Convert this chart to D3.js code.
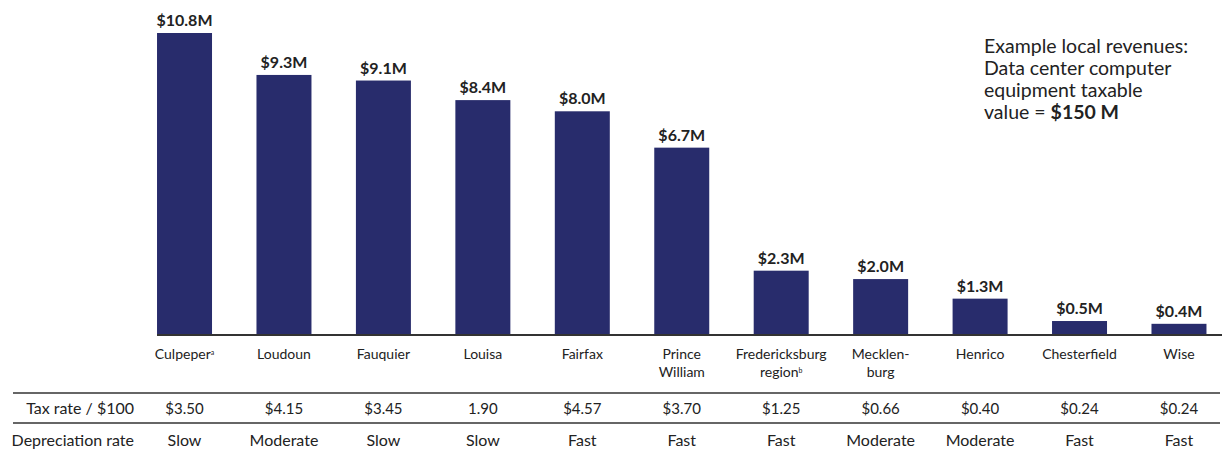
<!DOCTYPE html>
<html>
<head>
<meta charset="utf-8">
<script src="https://cdn.jsdelivr.net/npm/d3@7"></script>
<style>
  body { margin: 0; background: #fff; }
  svg text { font-family: Lato, 'Open Sans', sans-serif; fill: #222; }
</style>
</head>
<body>
<div id="container"></div>
<script>
const w = 1223,
  h = 451,
  baseY = 335,
  topY = 33;

const counties = [
  'Culpeper', 'Loudoun', 'Fauquier', 'Louisa', 'Fairfax', 'Prince William',
  'Fredericksburg region', 'Mecklenburg', 'Henrico', 'Chesterfield', 'Wise',
];
const labelLines = [
  ['Culpeper'], ['Loudoun'], ['Fauquier'], ['Louisa'], ['Fairfax'],
  ['Prince', 'William'], ['Fredericksburg', 'region'], ['Mecklen-', 'burg'],
  ['Henrico'], ['Chesterfield'], ['Wise'],
];
const notes = ['a', '', '', '', '', '', 'b', '', '', '', ''];
const revenues = [10.8, 9.3, 9.1, 8.4, 8.0, 6.7, 2.3, 2.0, 1.3, 0.5, 0.4];
const taxRates = ['$3.50', '$4.15', '$3.45', '1.90', '$4.57', '$3.70', '$1.25', '$0.66', '$0.40', '$0.24', '$0.24'];
const depreciation = ['Slow', 'Moderate', 'Slow', 'Slow', 'Fast', 'Fast', 'Fast', 'Moderate', 'Moderate', 'Fast', 'Fast'];
const rowLabels = ['Tax rate / $100', 'Depreciation rate'];
const noteLines = ['Example local revenues:', 'Data center computer', 'equipment taxable'];

const svg = d3
  .select('#container')
  .append('svg')
  .attr('width', w)
  .attr('height', h);

const xScale = d3
  .scaleBand()
  .domain(counties)
  .range([134.8, 1228.7])
  .paddingInner(0.447)
  .paddingOuter(0.2235);

const yScale = d3
  .scaleLinear()
  .domain([0, d3.max(revenues)])
  .range([baseY, topY]);

const data = counties.map((c, i) => ({ name: c, value: revenues[i], i: i }));

svg
  .selectAll('rect.bar')
  .data(data)
  .enter()
  .append('rect')
  .attr('class', 'bar')
  .attr('x', (d) => xScale(d.name))
  .attr('y', (d) => yScale(d.value))
  .attr('width', xScale.bandwidth())
  .attr('height', (d) => baseY - yScale(d.value))
  .attr('fill', '#282c6c');

svg
  .selectAll('text.value')
  .data(data)
  .enter()
  .append('text')
  .attr('class', 'value')
  .attr('x', (d) => xScale(d.name) + xScale.bandwidth() / 2)
  .attr('y', (d) => yScale(d.value) - 7)
  .attr('text-anchor', 'middle')
  .style('font-size', '16px')
  .style('font-weight', 'bold')
  .text((d) => '$' + d3.format('.1f')(d.value) + 'M');

// baseline
svg
  .append('line')
  .attr('x1', xScale(counties[0]))
  .attr('x2', 1222)
  .attr('y1', baseY)
  .attr('y2', baseY)
  .attr('stroke', '#333')
  .attr('stroke-width', 2);

// category labels
const xAxis = d3.axisBottom(xScale).tickSize(0).tickPadding(0);
const axisG = svg
  .append('g')
  .attr('transform', 'translate(0,' + 359 + ')')
  .call(xAxis);
axisG.select('.domain').remove();
axisG.selectAll('.tick text').each(function (d, i) {
  const t = d3.select(this);
  t.text(null)
    .attr('dy', null)
    .attr('y', 0)
    .style('font-size', '14px')
    .style('font-family', 'Lato, sans-serif')
    .attr('fill', '#222');
  labelLines[i].forEach((line, j) => {
    t.append('tspan').attr('x', 0).attr('y', j * 18).text(line);
    if (j === labelLines[i].length - 1 && notes[i]) {
      t.append('tspan')
        .attr('baseline-shift', 'super')
        .style('font-size', '7px')
        .text(notes[i]);
    }
  });
});

// table lines
[393, 423].forEach((y) => {
  svg
    .append('line')
    .attr('x1', 13)
    .attr('x2', 1220)
    .attr('y1', y)
    .attr('y2', y)
    .attr('stroke', '#333')
    .attr('stroke-width', 1.5);
});

const rows = [taxRates, depreciation];
const rowY = [414, 446];
const rowSize = ['15px', '16px'];

rows.forEach((vals, r) => {
  svg
    .append('text')
    .attr('x', 134)
    .attr('y', rowY[r])
    .attr('text-anchor', 'end')
    .style('font-size', '16px')
    .text(rowLabels[r]);
  svg
    .selectAll('text.row' + r)
    .data(vals)
    .enter()
    .append('text')
    .attr('class', 'row' + r)
    .attr('x', (d, i) => xScale(counties[i]) + xScale.bandwidth() / 2)
    .attr('y', rowY[r])
    .attr('text-anchor', 'middle')
    .style('font-size', rowSize[r])
    .text((d) => d);
});

// note
const note = svg
  .append('text')
  .attr('x', 984)
  .attr('y', 53)
  .style('font-size', '19.5px')
  .attr('fill', '#111');
noteLines.forEach((line, j) => {
  note.append('tspan').attr('x', 984).attr('y', 53 + j * 22).text(line);
});
note.append('tspan').attr('x', 984).attr('y', 53 + 3 * 22).text('value = ');
note.append('tspan').style('font-weight', 'bold').text('$150 M');
</script>
</body>
</html>
